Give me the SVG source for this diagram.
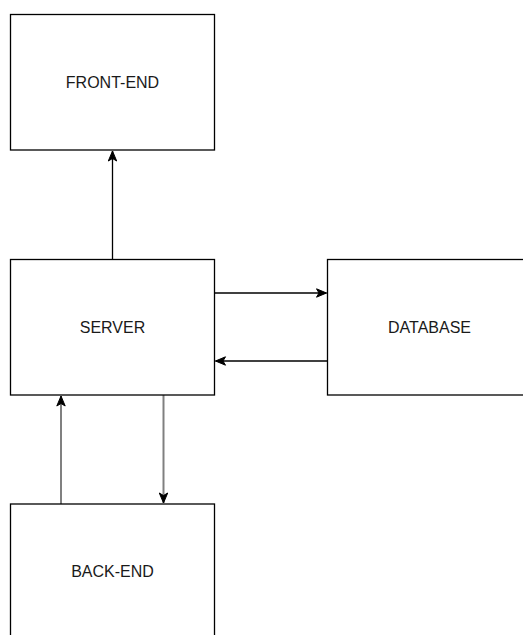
<svg xmlns="http://www.w3.org/2000/svg" width="523" height="635" viewBox="0 0 523 635">
<style>
.box{fill:#fff;stroke:#000;stroke-width:1.3}
.lbl{font-family:"Liberation Sans",Arial,sans-serif;font-size:16px;fill:#1a1a1a;text-anchor:middle}
.c{fill:none;stroke:#000;stroke-width:1.3}
.g{fill:none;stroke:#808080;stroke-width:2}
</style>
<defs>
<marker id="ah" markerWidth="12" markerHeight="12" refX="11" refY="6" orient="auto" markerUnits="userSpaceOnUse">
<path d="M1,1.8 L11,6 L1,10.2 L3.5,6 Z" fill="#000" stroke="#000" stroke-width="1"/>
</marker>
</defs>
<rect width="523" height="635" fill="#fff"/>
<g id="connectors">
<line class="c" x1="112.5" y1="259" x2="112.5" y2="151" marker-end="url(#ah)"/>
<line class="c" x1="214.5" y1="293" x2="326.5" y2="293" marker-end="url(#ah)"/>
<line class="c" x1="327.5" y1="361" x2="215.5" y2="361" marker-end="url(#ah)"/>
<line class="g" x1="61" y1="504" x2="61" y2="396" marker-end="url(#ah)"/>
<line class="g" x1="163.5" y1="395" x2="163.5" y2="503" marker-end="url(#ah)"/>
</g>
<g id="front-end">
<rect class="box" x="10.5" y="14.5" width="204" height="135.5"/>
<text class="lbl" x="112.5" y="87.5">FRONT-END</text>
</g>
<g id="server">
<rect class="box" x="10.5" y="259.5" width="204" height="135.5"/>
<text class="lbl" x="112.5" y="332.5">SERVER</text>
</g>
<g id="database">
<rect class="box" x="327.5" y="259.5" width="204" height="135.5"/>
<text class="lbl" x="429.5" y="332.5">DATABASE</text>
</g>
<g id="back-end">
<rect class="box" x="10.5" y="504" width="204" height="140"/>
<text class="lbl" x="112.5" y="577">BACK-END</text>
</g>
</svg>
